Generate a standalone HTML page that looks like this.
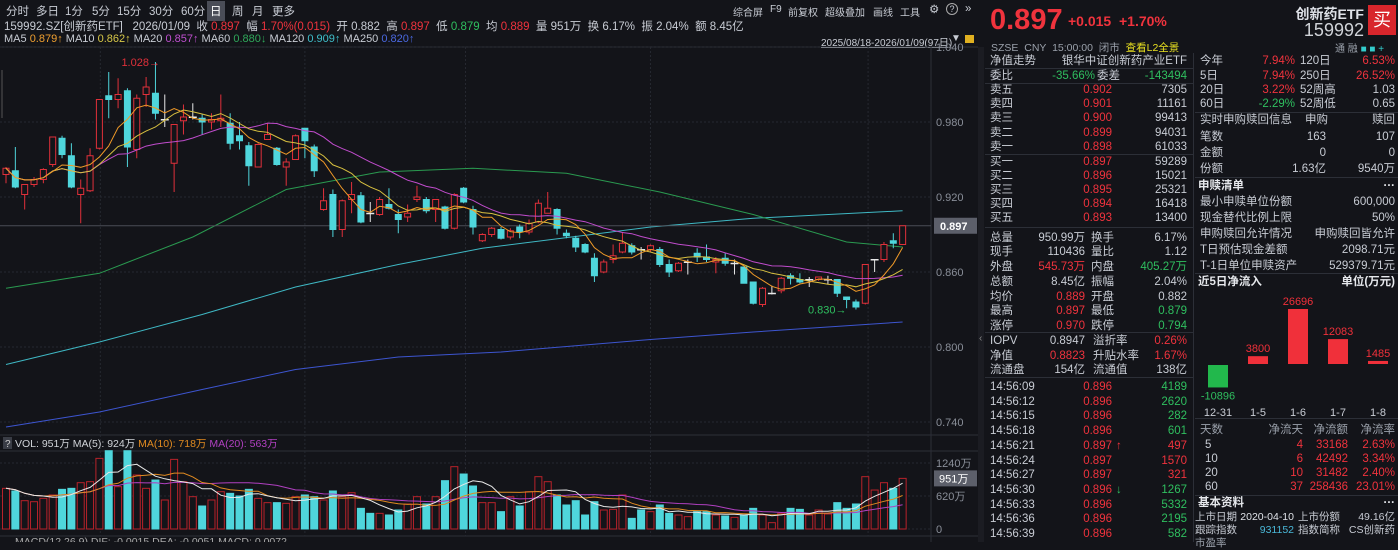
<!DOCTYPE html>
<html><head><meta charset="utf-8">
<style>
*{margin:0;padding:0;box-sizing:border-box}
body{width:1398px;height:542px;background:#131419;overflow:hidden;position:relative;font-family:"Liberation Sans","Noto Sans CJK SC",sans-serif;color:#c8ccd4;font-size:11.5px}
.abs{position:absolute;white-space:nowrap}
.red{color:#f0333d}.grn{color:#2fbf5f}.wht{color:#dfe2e8}.gry{color:#9aa0aa}
.tab{position:absolute;top:3px;font-size:11.5px;color:#c8ccd4}
.tb{position:absolute;top:4px;font-size:10px;color:#c8ccd4}
.r{position:absolute;height:14px;line-height:14px;white-space:nowrap}
.L{left:985px;width:208px}.R{left:1195px;width:203px}
.r span{position:absolute}
.L .a{left:5px}.L .b{right:81px}.L .c{left:106px}.L .d{right:6px}
.L .b2{right:108px}
.R .a{left:5px}.R .b{right:103px}.R .c{left:105px}.R .d{right:3px}
.hl{position:absolute;height:1px;background:#2c2f37}
.sm{font-size:10.5px}
</style></head>
<body>
<div class="tab" style="left:6px">分时</div>
<div class="tab" style="left:36px">多日</div>
<div class="tab" style="left:65px">1分</div>
<div class="tab" style="left:92px">5分</div>
<div class="tab" style="left:117px">15分</div>
<div class="tab" style="left:149px">30分</div>
<div class="tab" style="left:181px">60分</div>
<div class="tab" style="left:207px;top:1px;padding:2px 3px;background:#4a4d57;color:#fff">日</div>
<div class="tab" style="left:232px">周</div>
<div class="tab" style="left:252px">月</div>
<div class="tab" style="left:272px">更多</div>
<div class="tb" style="left:733px">综合屏</div>
<div class="tb" style="left:770px">F9</div>
<div class="tb" style="left:788px">前复权</div>
<div class="tb" style="left:825px">超级叠加</div>
<div class="tb" style="left:873px">画线</div>
<div class="tb" style="left:900px">工具</div>
<div class="tab" style="left:929px;top:2px">⚙</div>
<div class="tab" style="left:946px;top:3px;width:12px;height:12px;border:1px solid #aaa;border-radius:50%;font-size:9px;text-align:center;line-height:10px">?</div>
<div class="tab" style="left:965px">»</div>
<div class="abs" style="left:4px;top:18px">159992.SZ[创新药ETF] &nbsp; 2026/01/09 &nbsp;收 <span class="red">0.897</span> &nbsp;幅 <span class="red">1.70%(0.015)</span> &nbsp;开 0.882 &nbsp;高 <span class="red">0.897</span> &nbsp;低 <span class="grn">0.879</span> &nbsp;均 <span class="red">0.889</span> &nbsp;量 951万 &nbsp;换 6.17% &nbsp;振 2.04% &nbsp;额 8.45亿</div>
<div class="abs" style="left:4px;top:33px;font-size:11px">MA5 <span style="color:#f0a030">0.879↑</span> MA10 <span style="color:#d8c848">0.862↑</span> MA20 <span style="color:#c050d0">0.857↑</span> MA60 <span style="color:#2fa85a">0.880↓</span> MA120 <span style="color:#40c0cc">0.909↑</span> MA250 <span style="color:#4a68e0">0.820↑</span></div>
<div class="abs" style="left:821px;top:34px;font-size:10px;text-decoration:underline">2025/08/18-2026/01/09(97日)</div>
<div class="abs" style="left:951px;top:33px;font-size:10px">▼</div>
<div class="abs" style="left:965px;top:35px;width:9px;height:8px;background:#e0b020"></div>

<svg id="chart" width="980" height="542" style="position:absolute;left:0;top:0"></svg>
<div class="abs" style="left:978px;top:47px;width:6px;height:495px;background:#1b1c22"></div>
<div class="abs" style="left:979px;top:333px;font-size:10px;color:#888">‹</div>

<div class="abs red" style="left:990px;top:4px;font-size:29px;font-weight:bold">0.897</div>
<div class="abs red" style="left:1068px;top:13px;font-size:14px;font-weight:bold">+0.015 &nbsp;+1.70%</div>
<div class="abs wht" style="right:34px;top:4px;font-size:14px;font-weight:bold">创新药ETF</div>
<div class="abs" style="right:34px;top:20px;font-size:18px;color:#d0d3d8">159992</div>
<div class="abs" style="left:1368px;top:5px;width:28px;height:30px;background:#d8262c;color:#fff;font-size:18px;text-align:center;line-height:30px">买</div>
<div class="abs gry" style="left:991px;top:40px;font-size:10.5px">SZSE &nbsp;CNY &nbsp;15:00:00 &nbsp;闭市 &nbsp;<span style="color:#e8e020">查看L2全景</span></div>
<div class="abs gry" style="left:1335px;top:40px;font-size:10px">通 融 <span style="color:#3cc">■ ■ +</span></div>
<div class="abs" style="left:1193px;top:53px;width:1px;height:489px;background:#2c2f37"></div>

<div class="r L" style="top:54px"><span class="a">净值走势</span><span class="d">银华中证创新药产业ETF</span></div>
<div class="hl" style="left:985px;top:68px;width:208px"></div>
<div class="r L" style="top:69px"><span class="a">委比</span><span class="b2 grn" style="position:absolute;right:98px">-35.66%</span><span class="c" style="left:112px">委差</span><span class="d grn">-143494</span></div>
<div class="hl" style="left:985px;top:83px;width:208px"></div>
<div class="r L" style="top:83px"><span class="a">卖五</span><span class="b red">0.902</span><span class="d">7305</span></div>
<div class="r L" style="top:97px"><span class="a">卖四</span><span class="b red">0.901</span><span class="d">11161</span></div>
<div class="r L" style="top:111px"><span class="a">卖三</span><span class="b red">0.900</span><span class="d">99413</span></div>
<div class="r L" style="top:126px"><span class="a">卖二</span><span class="b red">0.899</span><span class="d">94031</span></div>
<div class="r L" style="top:140px"><span class="a">卖一</span><span class="b red">0.898</span><span class="d">61033</span></div>
<div class="hl" style="left:985px;top:154px;width:208px"></div>
<div class="r L" style="top:155px"><span class="a">买一</span><span class="b red">0.897</span><span class="d">59289</span></div>
<div class="r L" style="top:169px"><span class="a">买二</span><span class="b red">0.896</span><span class="d">15021</span></div>
<div class="r L" style="top:183px"><span class="a">买三</span><span class="b red">0.895</span><span class="d">25321</span></div>
<div class="r L" style="top:197px"><span class="a">买四</span><span class="b red">0.894</span><span class="d">16418</span></div>
<div class="r L" style="top:211px"><span class="a">买五</span><span class="b red">0.893</span><span class="d">13400</span></div>
<div class="hl" style="left:985px;top:227px;width:208px"></div>
<div class="r L" style="top:231px"><span class="a">总量</span><span class="b2">950.99万</span><span class="c">换手</span><span class="d">6.17%</span></div>
<div class="r L" style="top:245px"><span class="a">现手</span><span class="b2">110436</span><span class="c">量比</span><span class="d">1.12</span></div>
<div class="r L" style="top:260px"><span class="a">外盘</span><span class="b2 red">545.73万</span><span class="c">内盘</span><span class="d grn">405.27万</span></div>
<div class="r L" style="top:275px"><span class="a">总额</span><span class="b2">8.45亿</span><span class="c">振幅</span><span class="d">2.04%</span></div>
<div class="r L" style="top:290px"><span class="a">均价</span><span class="b2 red">0.889</span><span class="c">开盘</span><span class="d">0.882</span></div>
<div class="r L" style="top:304px"><span class="a">最高</span><span class="b2 red">0.897</span><span class="c">最低</span><span class="d grn">0.879</span></div>
<div class="r L" style="top:319px"><span class="a">涨停</span><span class="b2 red">0.970</span><span class="c">跌停</span><span class="d grn">0.794</span></div>
<div class="hl" style="left:985px;top:332px;width:208px"></div>
<div class="r L" style="top:334px"><span class="a">IOPV</span><span class="b2">0.8947</span><span class="c" style="left:108px">溢折率</span><span class="d red">0.26%</span></div>
<div class="r L" style="top:349px"><span class="a">净值</span><span class="b2 red">0.8823</span><span class="c" style="left:108px">升贴水率</span><span class="d red">1.67%</span></div>
<div class="r L" style="top:363px"><span class="a">流通盘</span><span class="b2">154亿</span><span class="c" style="left:108px">流通值</span><span class="d">138亿</span></div>
<div class="hl" style="left:985px;top:377px;width:208px"></div>
<div id="ticks"></div>

<div class="r R" style="top:54px"><span class="a">今年</span><span class="b red">7.94%</span><span class="c">120日</span><span class="d red">6.53%</span></div>
<div class="r R" style="top:69px"><span class="a">5日</span><span class="b red">7.94%</span><span class="c">250日</span><span class="d red">26.52%</span></div>
<div class="r R" style="top:83px"><span class="a">20日</span><span class="b red">3.22%</span><span class="c">52周高</span><span class="d">1.03</span></div>
<div class="r R" style="top:97px"><span class="a">60日</span><span class="b grn">-2.29%</span><span class="c">52周低</span><span class="d">0.65</span></div>
<div class="hl" style="left:1195px;top:112px;width:203px"></div>
<div class="r R" style="top:113px"><span class="a">实时申购赎回信息</span><span class="d" style="right:70px">申购</span><span class="d">赎回</span></div>
<div class="r R" style="top:130px"><span class="a">笔数</span><span class="d" style="right:72px">163</span><span class="d">107</span></div>
<div class="r R" style="top:146px"><span class="a">金额</span><span class="d" style="right:72px">0</span><span class="d">0</span></div>
<div class="r R" style="top:162px"><span class="a">份额</span><span class="d" style="right:72px">1.63亿</span><span class="d">9540万</span></div>
<div class="hl" style="left:1195px;top:177px;width:203px"></div>
<div class="r R" style="top:179px;font-weight:bold;color:#e6e8ec"><span class="a" style="left:3px">申赎清单</span><span class="d">···</span></div>
<div class="r R" style="top:195px"><span class="a">最小申赎单位份额</span><span class="d">600,000</span></div>
<div class="r R" style="top:211px"><span class="a">现金替代比例上限</span><span class="d">50%</span></div>
<div class="r R" style="top:227px"><span class="a">申购赎回允许情况</span><span class="d">申购赎回皆允许</span></div>
<div class="r R" style="top:243px"><span class="a">T日预估现金差额</span><span class="d">2098.71元</span></div>
<div class="r R" style="top:259px"><span class="a">T-1日单位申赎资产</span><span class="d">529379.71元</span></div>
<div class="hl" style="left:1195px;top:273px;width:203px"></div>
<div class="r R" style="top:275px;font-weight:bold;color:#e6e8ec"><span class="a" style="left:3px">近5日净流入</span><span class="d">单位(万元)</span></div>
<svg id="flow" width="203" height="145" style="position:absolute;left:1195px;top:273px"></svg>
<div class="hl" style="left:1195px;top:418px;width:203px"></div>
<div class="r R gry" style="top:423px"><span class="a">天数</span><span class="d" style="right:95px">净流天</span><span class="d" style="right:50px">净流额</span><span class="d">净流率</span></div>
<div class="r R" style="top:438px"><span class="a" style="left:10px">5</span><span class="d red" style="right:95px">4</span><span class="d red" style="right:50px">33168</span><span class="d red">2.63%</span></div>
<div class="r R" style="top:452px"><span class="a" style="left:10px">10</span><span class="d red" style="right:95px">6</span><span class="d red" style="right:50px">42492</span><span class="d red">3.34%</span></div>
<div class="r R" style="top:466px"><span class="a" style="left:10px">20</span><span class="d red" style="right:95px">10</span><span class="d red" style="right:50px">31482</span><span class="d red">2.40%</span></div>
<div class="r R" style="top:480px"><span class="a" style="left:10px">60</span><span class="d red" style="right:95px">37</span><span class="d red" style="right:50px">258436</span><span class="d red">23.01%</span></div>
<div class="hl" style="left:1195px;top:495px;width:203px"></div>
<div class="r R" style="top:496px;font-weight:bold;color:#e6e8ec"><span class="a" style="left:3px">基本资料</span><span class="d">···</span></div>
<div class="r R sm" style="top:510px"><span class="a" style="left:0px">上市日期</span><span class="b wht" style="right:104px">2020-04-10</span><span class="c" style="left:103px">上市份额</span><span class="d">49.16亿</span></div>
<div class="r R sm" style="top:523px"><span class="a" style="left:0px">跟踪指数</span><span class="b" style="right:104px;color:#4ab8d8">931152</span><span class="c" style="left:103px">指数简称</span><span class="d">CS创新药</span></div>
<div class="r R gry sm" style="top:536px"><span class="a" style="left:0px">市盈率</span></div>

<script>
const closes=[.943,.928,.930,.934,.942,.968,.954,.928,.927,.953,.998,.998,1.002,.960,.999,1.008,.987,.982,.978,.984,.984,.980,.982,.983,.963,.965,.945,.962,.970,.946,.948,.969,.965,.941,.917,.894,.917,.922,.900,.906,.918,.911,.902,.907,.920,.909,.918,.895,.922,.916,.896,.890,.895,.887,.893,.892,.899,.915,.911,.895,.889,.880,.876,.857,.868,.873,.883,.876,.877,.881,.866,.860,.867,.868,.872,.870,.870,.867,.867,.851,.835,.847,.843,.855,.855,.852,.854,.856,.854,.843,.838,.832,.866,.870,.882,.883,.897];
const opens=[.938,.941,.922,.930,.934,.946,.967,.953,.922,.925,.959,1.001,.998,1.005,.958,1.002,1.003,.982,.947,.981,.984,.983,.980,.981,.979,.969,.961,.944,.966,.959,.944,.950,.975,.960,.910,.922,.894,.918,.921,.907,.906,.914,.906,.904,.918,.918,.910,.912,.895,.927,.910,.885,.890,.894,.888,.896,.892,.900,.907,.910,.891,.887,.882,.871,.860,.870,.876,.881,.878,.878,.878,.866,.861,.868,.875,.872,.868,.871,.867,.864,.852,.834,.843,.845,.857,.854,.854,.854,.854,.854,.840,.836,.835,.870,.870,.885,.882];
const highs=[.944,.960,.930,.936,.943,.968,.969,.963,.934,.959,.998,1.020,1.015,1.007,1.002,1.016,1.028,1.002,.978,.994,.995,.986,.987,1.002,.987,.980,.964,.963,.979,.960,.951,.970,.975,.962,.927,.926,.918,.932,.924,.916,.920,.927,.910,.914,.929,.920,.918,.913,.923,.928,.913,.891,.896,.896,.895,.898,.902,.918,.924,.911,.894,.889,.883,.875,.870,.882,.892,.883,.880,.882,.880,.870,.868,.870,.879,.882,.872,.875,.870,.864,.852,.848,.849,.856,.859,.859,.856,.856,.857,.854,.840,.838,.866,.870,.884,.891,.897];
const lows=[.931,.927,.910,.928,.931,.944,.951,.927,.899,.924,.958,.983,.991,.944,.951,.992,.982,.976,.924,.970,.982,.970,.974,.976,.958,.958,.929,.944,.966,.945,.929,.950,.951,.936,.909,.888,.888,.907,.899,.900,.905,.910,.891,.900,.916,.907,.900,.894,.894,.915,.890,.884,.888,.886,.886,.887,.890,.899,.907,.890,.887,.876,.875,.852,.859,.867,.875,.874,.870,.876,.864,.856,.860,.858,.868,.868,.859,.865,.858,.851,.834,.832,.842,.843,.850,.851,.848,.853,.850,.840,.831,.830,.834,.860,.868,.879,.882];
const volumes=[764,714,532,513,576,639,745,764,870,889,1327,1471,795,1471,1014,764,920,545,1308,889,607,432,545,701,670,620,745,576,495,495,482,607,639,607,545,714,607,682,388,294,294,263,357,470,607,470,607,908,1171,1033,808,495,495,326,607,432,701,983,889,639,451,532,263,513,357,369,639,200,357,326,451,294,263,232,326,326,263,244,219,263,388,263,119,294,388,369,263,357,282,495,388,470,983,732,870,764,951];
const ma60Idx=[0,10,20,30,40,50,60,70,80,90,96], ma60Val=[.847,.859,.888,.926,.940,.943,.939,.924,.906,.884,.880];
const ma120Idx=[0,10,21,31,42,51,69,80,96], ma120Val=[.786,.804,.826,.848,.866,.879,.896,.903,.909];
const ma250Idx=[0,10,21,31,42,53,69,80,96], ma250Val=[.736,.748,.766,.782,.792,.796,.806,.812,.820];
const priceTicks=[1.040,0.980,0.920,0.860,0.800,0.740];
const volTicks=[1240,620,0];
const volTickLabels=["1240万","620万","0"];
const monthLines=[10.1,32,49.2,69,92.3];

const NS="http://www.w3.org/2000/svg";
const svg=document.getElementById('chart');
function el(t,a){const e=document.createElementNS(NS,t);for(const k in a)e.setAttribute(k,a[k]);svg.appendChild(e);return e;}
const X=i=>6+i*9.34;
const Y=p=>197+(0.92-p)*1250;
const VY=v=>529-v*33/620;
const RED="#e0303a",CY="#4fd6dc";

let f=el('line',{x1:0,y1:47,x2:978,y2:47,stroke:'#2c2f37'});
f=el('line',{x1:931,y1:47,x2:931,y2:542,stroke:'#2c2f37'});
f=el('line',{x1:0,y1:435,x2:978,y2:435,stroke:'#2c2f37'});
f=el('line',{x1:0,y1:451,x2:978,y2:451,stroke:'#2c2f37'});
f=el('line',{x1:0,y1:536,x2:978,y2:536,stroke:'#2c2f37'});
f=el('line',{x1:2,y1:70,x2:2,y2:118,stroke:'#555'});

priceTicks.forEach(p=>{
  const g=el('line',{x1:0,y1:Y(p),x2:931,y2:Y(p),stroke:'#262931','stroke-dasharray':'2,2'});
  
  const t=el('text',{x:936,y:Y(p)+4,fill:'#8a8f99','font-size':'11'});t.textContent=p.toFixed(3);
  
});
monthLines.forEach(m=>{
  const g=el('line',{x1:X(m),y1:47,x2:X(m),y2:536,stroke:'#262931','stroke-dasharray':'2,2'});
  
});
volTicks.forEach((v,k)=>{
  const g=el('line',{x1:0,y1:VY(v),x2:931,y2:VY(v),stroke:'#262931','stroke-dasharray':'2,2'});
  
  const t=el('text',{x:936,y:VY(v)+4,fill:'#8a8f99','font-size':'11'});t.textContent=volTickLabels[k];
  
});

function line(pts,color,name){
  const p=el('polyline',{points:pts.map(q=>q[0].toFixed(1)+','+q[1].toFixed(1)).join(' '),fill:'none',stroke:color,'stroke-width':1});
  
}
function ma(arr,n){return arr.map((_,i)=>{const s=arr.slice(Math.max(0,i-n+1),i+1);return s.reduce((a,b)=>a+b,0)/s.length;});}
function sampled(idx,val){return idx.map((ix,k)=>[X(ix),Y(val[k])]);}

line(sampled(ma250Idx,ma250Val),'#3d55d0','ma250-line');
line(sampled(ma120Idx,ma120Val),'#3fb8c4','ma120-line');
line(sampled(ma60Idx,ma60Val),'#2a9a50','ma60-line');

f=el('line',{x1:0,y1:Y(0.897),x2:931,y2:Y(0.897),stroke:'#4a4d56'});

closes.forEach((c,i)=>{
  const o=opens[i],up=c>o,dj=Math.abs(c-o)<0.0015,col=dj?'#e8e8e8':(up?RED:CY),x=X(i);
  const w=el('line',{x1:x,y1:Y(highs[i]),x2:x,y2:Y(lows[i]),stroke:col});
  
  const top=Y(Math.max(o,c)),h=Math.max(1,Math.abs(Y(o)-Y(c)));
  const b=el('rect',{x:x-3,y:top,width:6,height:h,fill:up||dj?'#131419':CY,stroke:col});
  if(dj){b.setAttribute('height',0.5);b.setAttribute('x',x-3.5);b.setAttribute('width',7);}
  
});
line(ma(closes,20).map((v,i)=>[X(i),Y(v)]),'#c04ccc','ma20-line');
line(ma(closes,10).map((v,i)=>[X(i),Y(v)]),'#d8c040','ma10-line');
line(ma(closes,5).map((v,i)=>[X(i),Y(v)]),'#f09a28','ma5-line');

const hiI=highs.indexOf(Math.max(...highs)),loI=lows.indexOf(Math.min(...lows));
let t=el('text',{x:X(hiI)-34,y:Y(highs[hiI])+4,fill:RED,'font-size':'11'});t.textContent=Math.max(...highs).toFixed(3)+'→';

t=el('text',{x:X(loI)-48,y:Y(lows[loI])+4,fill:'#2fbf5f','font-size':'11'});t.textContent=Math.min(...lows).toFixed(3)+'→';

let r=el('rect',{x:934,y:Y(0.897)-8,width:43,height:16,fill:'#5c5f6a'});
t=el('text',{x:940,y:Y(0.897)+4,fill:'#fff','font-size':'11','font-weight':'bold'});t.textContent=closes[closes.length-1].toFixed(3);


volumes.forEach((v,i)=>{
  const up=closes[i]>=opens[i],x=X(i);
  const b=el('rect',{x:x-3.5,y:VY(v),width:7,height:529-VY(v),fill:up?'#131419':CY,stroke:up?'#b8222a':CY});
  
});
line(ma(volumes,20).map((v,i)=>[X(i),VY(v)]),'#b040c0','vol-ma20-line');
line(ma(volumes,10).map((v,i)=>[X(i),VY(v)]),'#e08a20','vol-ma10-line');
line(ma(volumes,5).map((v,i)=>[X(i),VY(v)]),'#e8e8e8','vol-ma5-line');
r=el('rect',{x:934,y:VY(951)-8,width:43,height:16,fill:'#5c5f6a'});
t=el('text',{x:939,y:VY(951)+4,fill:'#fff','font-size':'11'});t.textContent='951万';

r=el('rect',{x:3,y:437,width:9,height:12,fill:'#3a3d46'});
t=el('text',{x:5,y:447,fill:'#ccc','font-size':'10'});t.textContent='?';

t=el('text',{x:15,y:447,fill:'#d0d3d8','font-size':'10.5'});
t.innerHTML='VOL: 951万  MA(5): 924万  <tspan fill="#e08a20">MA(10): 718万</tspan>  <tspan fill="#b040c0">MA(20): 563万</tspan>';

t=el('text',{x:15,y:545,fill:'#aaa','font-size':'10.5'});t.textContent='MACD(12,26,9) DIF: -0.0015  DEA: -0.0051  MACD: 0.0072';


const tickTimes=["14:56:09","14:56:12","14:56:15","14:56:18","14:56:21","14:56:24","14:56:27","14:56:30","14:56:33","14:56:36","14:56:39"];
const tickPrices=["0.896","0.896","0.896","0.896","0.897","0.897","0.897","0.896","0.896","0.896","0.896"];
const tickVols=[4189,2620,282,601,497,1570,321,1267,5332,2195,582];
const tickBuy=[0,0,0,0,1,1,1,0,0,0,0];
const tc=document.getElementById('ticks');
tickTimes.forEach((tm,k)=>{
  const d=document.createElement('div');
  d.className='r L';d.style.top=(380+k*14.7)+'px';
  
  
  const arrow=k===4?'<span class="red" style="left:131px">↑</span>':(k===7?'<span class="grn" style="left:131px">↓</span>':'');
  d.innerHTML='<span class="a">'+tm+'</span><span class="b red" style="right:81px">'+tickPrices[k]+'</span>'+arrow+'<span class="d '+(tickBuy[k]?'red':'grn')+'">'+tickVols[k]+'</span>';
  tc.appendChild(d);
});

const flowDates=["12-31","1-5","1-6","1-7","1-8"];
const flowValues=[-10896,3800,26696,12083,1485];
const fs=document.getElementById('flow');
function fel(t,a){const e=document.createElementNS(NS,t);for(const k in a)e.setAttribute(k,a[k]);fs.appendChild(e);return e;}
const base=91,scale=55/26696;
flowValues.forEach((v,k)=>{
  const cx=23+k*40,h=Math.abs(v)*scale,y=v>=0?base-h:base+1;
  const b=fel('rect',{x:cx-10,y:y,width:20,height:Math.max(h,2),fill:v>=0?'#f0303a':'#22b84c'});
  
  const lt=fel('text',{x:cx,y:v>=0?y-4:y+h+12,fill:v>=0?'#f0303a':'#2fbf5f','font-size':'11','text-anchor':'middle'});lt.textContent=v;
  
  const dt=fel('text',{x:cx,y:143,fill:'#c8ccd4','font-size':'11','text-anchor':'middle'});dt.textContent=flowDates[k];
  
});
</script>
</body></html>
